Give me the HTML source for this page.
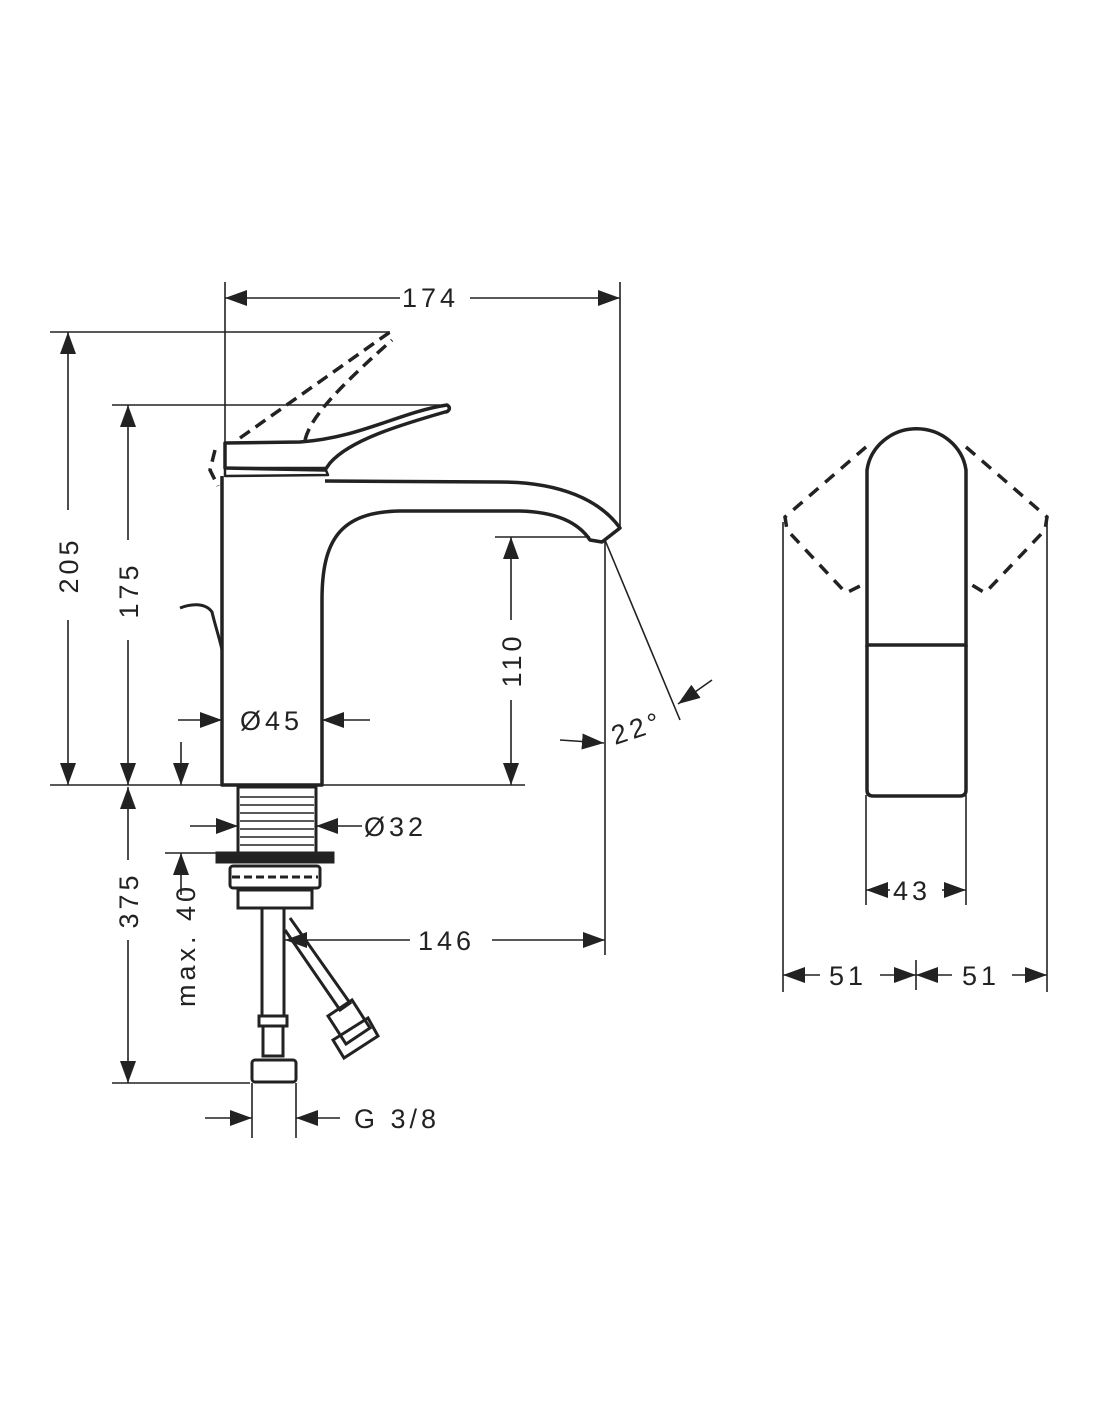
<!DOCTYPE html>
<html><head><meta charset="utf-8"><style>
html,body{margin:0;padding:0;background:#fff;}
svg{display:block;}
text{font-family:"Liberation Sans",sans-serif;font-size:27px;fill:#222;letter-spacing:4px;}
</style></head><body>
<svg width="1100" height="1422" viewBox="0 0 1100 1422" xmlns="http://www.w3.org/2000/svg">
<defs>
<marker id="a" markerUnits="userSpaceOnUse" markerWidth="24" markerHeight="16" refX="22" refY="8" orient="auto">
<path d="M0,0 L22,8 L0,16 Z" fill="#222"/></marker>
</defs>
<g stroke="#222" fill="none" stroke-width="1.6">
<!-- extension lines -->
<line x1="225" y1="282" x2="225" y2="470"/>
<line x1="620" y1="282" x2="620" y2="528"/>
<line x1="50" y1="332" x2="390" y2="332"/>
<line x1="112" y1="405" x2="440" y2="405"/>
<line x1="50" y1="785" x2="525" y2="785"/>
<line x1="495" y1="537" x2="590" y2="537"/>
<line x1="605" y1="540" x2="605" y2="955"/>
<line x1="112" y1="1083" x2="250" y2="1083"/>
<line x1="165" y1="853" x2="230" y2="853"/>
<line x1="252" y1="1083" x2="252" y2="1138"/>
<line x1="296" y1="1083" x2="296" y2="1138"/>
<line x1="605" y1="540" x2="680" y2="720"/>
<!-- dim lines -->
<line x1="245" y1="298" x2="400" y2="298" />
<line x1="245" y1="298" x2="225" y2="298" marker-end="url(#a)"/>
<line x1="470" y1="298" x2="620" y2="298" marker-end="url(#a)"/>
<line x1="68" y1="510" x2="68" y2="332" marker-end="url(#a)"/>
<line x1="68" y1="620" x2="68" y2="785" marker-end="url(#a)"/>
<line x1="128" y1="540" x2="128" y2="405" marker-end="url(#a)"/>
<line x1="128" y1="640" x2="128" y2="785" marker-end="url(#a)"/>
<line x1="128" y1="860" x2="128" y2="787" marker-end="url(#a)"/>
<line x1="128" y1="940" x2="128" y2="1083" marker-end="url(#a)"/>
<line x1="511" y1="620" x2="511" y2="537" marker-end="url(#a)"/>
<line x1="511" y1="700" x2="511" y2="785" marker-end="url(#a)"/>
<line x1="178" y1="720" x2="222" y2="720" marker-end="url(#a)"/>
<line x1="370" y1="720" x2="322" y2="720" marker-end="url(#a)"/>
<line x1="181" y1="742" x2="181" y2="785" marker-end="url(#a)"/>
<line x1="190" y1="826" x2="238" y2="826" marker-end="url(#a)"/>
<line x1="362" y1="826" x2="316" y2="826" marker-end="url(#a)"/>
<line x1="181" y1="895" x2="181" y2="853" marker-end="url(#a)"/>
<line x1="410" y1="940" x2="285" y2="940" marker-end="url(#a)"/>
<line x1="492" y1="940" x2="605" y2="940" marker-end="url(#a)"/>
<line x1="560" y1="740" x2="604" y2="743" marker-end="url(#a)"/>
<line x1="712" y1="680" x2="678" y2="704" marker-end="url(#a)"/>
<line x1="205" y1="1118" x2="252" y2="1118" marker-end="url(#a)"/>
<line x1="340" y1="1118" x2="296" y2="1118" marker-end="url(#a)"/>
<!-- right view dims -->
<line x1="783" y1="522" x2="783" y2="992"/>
<line x1="1047" y1="522" x2="1047" y2="992"/>
<line x1="866" y1="795" x2="866" y2="905"/>
<line x1="966" y1="795" x2="966" y2="905"/>
<line x1="916" y1="960" x2="916" y2="990"/>
<line x1="890" y1="890" x2="866" y2="890" marker-end="url(#a)"/>
<line x1="942" y1="890" x2="966" y2="890" marker-end="url(#a)"/>
<line x1="820" y1="975" x2="783" y2="975" marker-end="url(#a)"/>
<line x1="880" y1="975" x2="916" y2="975" marker-end="url(#a)"/>
<line x1="952" y1="975" x2="916" y2="975" marker-end="url(#a)"/>
<line x1="1012" y1="975" x2="1047" y2="975" marker-end="url(#a)"/>
</g>
<!-- faucet body -->
<g stroke="#222" fill="none" stroke-width="3.5" stroke-linejoin="round">
<path d="M222,476 L222,785 L322,785 L322,600 C322,540 340,512 400,511 L520,511 C560,512 580,525 590,540 L602,542 L620,528 C600,500 560,482 500,482 L325,481"/>
<path d="M225,468 L225,443 L300,442 C360,438 400,412 447,405 C452,408 448,412 445,412 C400,425 350,440 330,463 L325,470 Z"/>
<path d="M225,468 L325,468 L328,475 L225,476 Z" stroke-width="2.5"/>
<path d="M180,608 C190,604 205,602 212,612 C215,625 220,640 222,650" stroke-width="3"/>
</g>
<g stroke="#222" fill="none" stroke-width="3.5" stroke-dasharray="12,7">
<path d="M240,438 L390,332"/>
<path d="M305,440 C310,420 330,395 392,340"/>
<path d="M215,450 L210,470 L218,486"/>
</g>
<!-- connector -->
<g stroke="#222" stroke-width="3" fill="none">
<rect x="238" y="787" width="78" height="66"/>
<g stroke-width="1.5"><line x1="240" y1="797" x2="314" y2="797"/><line x1="240" y1="805" x2="314" y2="805"/><line x1="240" y1="813" x2="314" y2="813"/><line x1="240" y1="821" x2="314" y2="821"/><line x1="240" y1="829" x2="314" y2="829"/><line x1="240" y1="837" x2="314" y2="837"/><line x1="240" y1="845" x2="314" y2="845"/></g>
<rect x="217" y="853" width="116" height="9" fill="#222"/>
<rect x="230" y="866" width="90" height="22" rx="3"/>
<line x1="232" y1="877" x2="318" y2="877" stroke-dasharray="8,4"/>
<rect x="238" y="890" width="74" height="18"/>
<rect x="262" y="908" width="22" height="108"/>
<rect x="259" y="1016" width="28" height="10"/>
<rect x="263" y="1026" width="20" height="30"/>
<rect x="252" y="1060" width="44" height="22" rx="3"/>
<path d="M285,930 L340,1010 L350,1003 L290,918"/>
<path d="M328,1016 L352,1000 L370,1028 L346,1044 Z"/>
<path d="M333,1040 L368,1018 L378,1036 L344,1058 Z"/>
</g>
<!-- right view -->
<g stroke="#222" fill="none" stroke-width="3.5">
<path d="M867,645 L867,470 A50,48 0 0 1 966,470 L966,645 Z"/>
<path d="M867,645 L867,790 Q867,796 873,796 L960,796 Q966,796 966,790 L966,645"/>
</g>
<g stroke="#222" fill="none" stroke-width="3.5" stroke-dasharray="12,9">
<path d="M866,447 L785,517 L787,530 L846,593 L862,585"/>
<path d="M966,447 L1047,517 L1045,530 L985,593 L972,585"/>
</g>
<text x="402" y="307">174</text>
<text x="240" y="730">Ø45</text>
<text x="364" y="836">Ø32</text>
<text x="418" y="950">146</text>
<text x="354" y="1128">G 3/8</text>
<text x="893" y="900">43</text>
<text x="829" y="985">51</text>
<text x="962" y="985">51</text>
<text transform="translate(78,565) rotate(-90)" text-anchor="middle">205</text>
<text transform="translate(138,590) rotate(-90)" text-anchor="middle">175</text>
<text transform="translate(521,660) rotate(-90)" text-anchor="middle">110</text>
<text transform="translate(138,900) rotate(-90)" text-anchor="middle">375</text>
<text transform="translate(195,945) rotate(-90)" text-anchor="middle">max. 40</text>
<text transform="translate(615,745) rotate(-18)">22°</text>
</svg>
</body></html>
